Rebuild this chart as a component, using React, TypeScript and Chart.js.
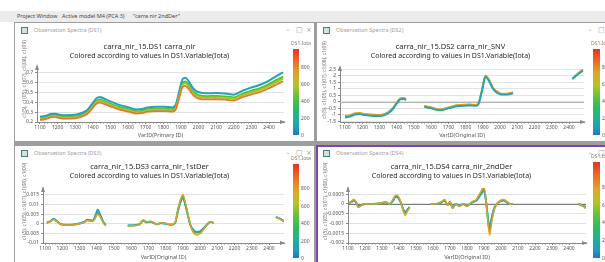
import React, { useEffect, useRef } from "react";
import { Chart, registerables } from "chart.js";
Chart.register(...registerables);

const FONT = "'Noto Sans', 'DejaVu Sans', sans-serif";

// ---------- shared axis ticks ----------
const xTicks = [1100, 1200, 1300, 1400, 1500, 1600, 1700, 1800, 1900, 2000, 2100, 2200, 2300, 2400];
const xTickLabels = ["1100", "1200", "1300", "1400", "1500", "1600", "1700", "1800", "1900", "2000", "2100", "2200", "2300", "2400"];

// ---------- panel 1 : carra_nir ----------
const p1X = [1100, 1130, 1160, 1185, 1210, 1250, 1300, 1340, 1370, 1400, 1420, 1440, 1460, 1500, 1550, 1600, 1650, 1680, 1710, 1760, 1810, 1850, 1870, 1890, 1910, 1925, 1945, 1970, 2000, 2050, 2100, 2150, 2200, 2250, 2300, 2350, 2400, 2440, 2480];
const p1Teal = [0.253, 0.261, 0.282, 0.285, 0.275, 0.268, 0.273, 0.294, 0.325, 0.394, 0.442, 0.456, 0.442, 0.41, 0.375, 0.351, 0.328, 0.332, 0.349, 0.356, 0.356, 0.349, 0.373, 0.511, 0.639, 0.652, 0.612, 0.543, 0.503, 0.492, 0.495, 0.49, 0.479, 0.52, 0.552, 0.58, 0.623, 0.666, 0.705];
const p1Green = [0.238, 0.245, 0.265, 0.268, 0.258, 0.252, 0.256, 0.276, 0.305, 0.37, 0.415, 0.428, 0.415, 0.385, 0.352, 0.33, 0.308, 0.312, 0.328, 0.334, 0.334, 0.328, 0.35, 0.48, 0.6, 0.612, 0.575, 0.51, 0.472, 0.462, 0.465, 0.46, 0.45, 0.488, 0.518, 0.545, 0.585, 0.625, 0.662];
const p1Lime = [0.231, 0.238, 0.257, 0.26, 0.25, 0.244, 0.248, 0.268, 0.296, 0.359, 0.403, 0.415, 0.403, 0.373, 0.341, 0.32, 0.299, 0.303, 0.318, 0.324, 0.324, 0.318, 0.34, 0.466, 0.582, 0.594, 0.558, 0.495, 0.458, 0.448, 0.451, 0.446, 0.437, 0.473, 0.502, 0.529, 0.567, 0.606, 0.642];
const p1Orange = [0.221, 0.228, 0.246, 0.249, 0.24, 0.234, 0.238, 0.257, 0.284, 0.344, 0.386, 0.398, 0.386, 0.358, 0.327, 0.307, 0.286, 0.29, 0.305, 0.311, 0.311, 0.305, 0.326, 0.446, 0.558, 0.569, 0.535, 0.474, 0.439, 0.43, 0.432, 0.428, 0.419, 0.454, 0.482, 0.507, 0.544, 0.581, 0.616];
const p1YTicks = [0.2, 0.3, 0.4, 0.5, 0.6, 0.7];
const p1YLabels = ["0.2", "0.3", "0.4", "0.5", "0.6", "0.7"];

// ---------- panel 2 : carra_nir_SNV ----------
const p2X = [1100, 1130, 1160, 1185, 1210, 1250, 1300, 1330, 1355, 1380, 1400, 1420, 1440, 1455, 1500, 1560, 1600, 1650, 1700, 1740, 1780, 1820, 1860, 1875, 1895, 1915, 1935, 1960, 1985, 2005, 2040, 2075, 2200, 2420, 2450, 2480];
const p2Teal = [-1.2, -1.12, -0.97, -0.94, -1.01, -1.06, -1.09, -1.01, -0.84, -0.51, -0.14, 0.2, 0.23, 0.15, null, -0.37, -0.5, -0.65, -0.5, -0.35, -0.3, -0.27, -0.3, -0.16, 0.82, 1.93, 1.62, 0.98, 0.69, 0.57, 0.57, 0.67, null, 1.75, 2.1, 2.4];
const p2Green = [-1.12, -1.05, -0.9, -0.88, -0.95, -1.0, -1.03, -0.95, -0.78, -0.45, -0.08, 0.25, 0.28, 0.2, null, -0.32, -0.45, -0.6, -0.45, -0.3, -0.25, -0.22, -0.25, -0.1, 0.9, 2.0, 1.7, 1.05, 0.75, 0.62, 0.62, 0.72, null, 1.8, 2.15, 2.45];
const p2Orange = [-1.06, -1.0, -0.85, -0.83, -0.9, -0.95, -0.98, -0.9, -0.73, -0.4, -0.03, 0.29, 0.32, 0.24, null, -0.28, -0.41, -0.56, -0.41, -0.26, -0.21, -0.18, -0.21, -0.05, 0.96, 2.05, 1.76, 1.1, 0.79, 0.66, 0.66, 0.76, null, 1.84, 2.19, 2.49];
const p2YTicks = [-1.5, -1, -0.5, 0, 0.5, 1, 1.5, 2, 2.5];
const p2YLabels = ["-1.5", "-1", "-0.5", "0", "0.5", "1", "1.5", "2", "2.5"];

// ---------- panel 3 : carra_nir_1stDer ----------
const p3X = [1110, 1130, 1150, 1170, 1190, 1220, 1260, 1300, 1330, 1345, 1360, 1378, 1392, 1405, 1420, 1436, 1452, 1500, 1580, 1620, 1650, 1670, 1690, 1710, 1730, 1750, 1770, 1800, 1830, 1855, 1870, 1885, 1900, 1912, 1928, 1945, 1960, 1980, 2000, 2020, 2040, 2060, 2078, 2200, 2440, 2465, 2490];
const p3Teal = [0.0006, 0.0013, 0.0026, 0.0013, -0.0001, -0.0005, -0.0004, 0.0002, 0.0011, 0.0021, 0.0019, 0.0018, 0.0042, 0.0074, 0.0048, 0.0014, -0.0007, null, -0.0009, -0.0007, -0.0001, 0.0016, 0.0007, 0.0011, 0.0004, -0.0003, 0.0003, 0.0, -0.0005, 0.0004, 0.006, 0.0108, 0.0135, 0.0105, 0.0047, -0.0009, -0.0032, -0.0042, -0.0039, -0.0023, -0.0004, 0.001, 0.0004, null, 0.0036, 0.0026, 0.0013];
const p3Green = [0.0005, 0.0012, 0.0024, 0.0012, -0.0002, -0.0006, -0.0005, 0.0001, 0.001, 0.0019, 0.0017, 0.0016, 0.0035, 0.0058, 0.004, 0.0012, -0.0008, null, -0.001, -0.0008, -0.0002, 0.0018, 0.0008, 0.0012, 0.0005, -0.0002, 0.0004, 0.0001, -0.0005, 0.0005, 0.0065, 0.0115, 0.0142, 0.011, 0.005, -0.001, -0.0035, -0.0046, -0.0042, -0.0025, -0.0005, 0.001, 0.0004, null, 0.0035, 0.0025, 0.0012];
const p3Orange = [0.0004, 0.0011, 0.0022, 0.0011, -0.0003, -0.0007, -0.0006, 0.0, 0.0008, 0.0017, 0.0015, 0.0014, 0.003, 0.005, 0.0036, 0.0009, -0.0009, null, -0.0011, -0.0009, -0.0003, 0.002, 0.0009, 0.0013, 0.0006, -0.0002, 0.0005, 0.0002, -0.0005, 0.0006, 0.007, 0.0122, 0.0152, 0.0118, 0.0053, -0.0012, -0.0045, -0.0058, -0.0052, -0.003, -0.0007, 0.0011, 0.0004, null, 0.0033, 0.0024, 0.0011];
const p3YTicks = [-0.01, -0.005, 0, 0.005, 0.01, 0.015];
const p3YLabels = ["-0.01", "-0.005", "0", "0.005", "0.01", "0.015"];

// ---------- panel 4 : carra_nir_2ndDer ----------
const p4X = [1105, 1120, 1135, 1150, 1160, 1175, 1200, 1250, 1300, 1320, 1345, 1365, 1380, 1392, 1410, 1425, 1437, 1447, 1462, 1500, 1585, 1620, 1650, 1668, 1685, 1700, 1715, 1735, 1755, 1780, 1800, 1830, 1855, 1870, 1885, 1898, 1910, 1922, 1933, 1943, 1958, 1975, 1995, 2015, 2035, 2055, 2070, 2200, 2455, 2470, 2485, 2498];
const p4Teal = [0.00004, 0.0001, 0.00017, 0.00004, -0.00012, -0.00006, 0, 0, 0.00004, 0.00008, 0, 0.00017, 0.00036, 0.00034, 0.00008, -0.00026, -0.00042, -0.0003, -0.00015, null, 0, 0, 0.00008, 0.00017, -0.00004, 0.00008, -0.00017, 0, -0.00008, 0, -0.00008, 0.00008, 0.00017, 0.00034, 0.00052, 0.0007, 0.00026, -0.0006, -0.0012, -0.00078, -0.00026, 0, 0.00013, 0.00017, 0.00008, 0, 0, null, 0, -0.00004, -0.00008, -0.00017];
const p4Green = [0.00005, 0.00012, 0.0002, 0.00005, -0.00015, -0.00008, 0, 0, 0.00005, 0.0001, 0, 0.0002, 0.0004, 0.00038, 0.0001, -0.0003, -0.0005, -0.00035, -0.00018, null, 0, 0, 0.0001, 0.0002, -0.00005, 0.0001, -0.0002, 0, -0.0001, 0, -0.0001, 0.0001, 0.0002, 0.0004, 0.0006, 0.0008, 0.0003, -0.0007, -0.0014, -0.0009, -0.0003, 0, 0.00015, 0.0002, 0.0001, 0, 0, null, 0, -0.00005, -0.0001, -0.0002];
const p4Orange = [0.00006, 0.00014, 0.00023, 0.00006, -0.00018, -0.0001, 0, 0, 0.00006, 0.00012, 0, 0.00023, 0.00045, 0.00043, 0.00012, -0.00034, -0.00058, -0.0004, -0.0002, null, 0, 0, 0.00012, 0.00023, -0.00006, 0.00012, -0.00023, 0, -0.00012, 0, -0.00012, 0.00012, 0.00023, 0.00046, 0.00069, 0.00092, 0.00035, -0.0008, -0.0016, -0.00104, -0.00035, 0, 0.00017, 0.00023, 0.00012, 0, 0, null, 0, -0.00006, -0.00012, -0.00023];
const p4YTicks = [-0.002, -0.0015, -0.001, -0.0005, 0, 0.0005];
const p4YLabels = ["-0.002", "-0.0015", "-0.001", "-0.0005", "0", "0.0005"];

// ---------- colour bar ----------
const cbTicks = [800, 600, 400, 200, 0];
const cbLabels = ["800", "600", "400", "200", "0"];
const cbTitle = "DS1.Iota";
const subtitleText = "Colored according to values in DS1.Variable(Iota)";
const yAxisTitle = "c1(5), c1(05), c1(07), c1(08), c1(09)";

const C_TEAL = "#22a2bb";
const C_GREEN = "#48c236";
const C_LIME = "#a8c62a";
const C_ORANGE = "#e47a2c";
const C_AMBER = "#dca22c";

const decorPlugin = {
  id: "decor",
  beforeDatasetsDraw(chart: any, _a: any, opts: any) {
    if (!opts.zeroColor) return;
    const { ctx, chartArea: a, scales } = chart;
    const py = Math.round(scales.y.getPixelForValue(0)) + 0.5;
    ctx.save();
    ctx.strokeStyle = opts.zeroColor;
    ctx.lineWidth = 1;
    ctx.beginPath();
    ctx.moveTo(a.left, py);
    ctx.lineTo(a.right, py);
    ctx.stroke();
    ctx.restore();
  },
  afterDraw(chart: any, _a: any, opts: any) {
    const { ctx, chartArea: a, scales } = chart;
    ctx.save();
    ctx.fillStyle = "#8a8a8a";
    ctx.strokeStyle = "#8a8a8a";
    ctx.lineWidth = 1;
    ctx.beginPath();
    ctx.moveTo(a.left, a.top - 2);
    ctx.lineTo(a.left - 2, a.top + 4);
    ctx.lineTo(a.left + 2, a.top + 4);
    ctx.closePath();
    ctx.fill();
    ctx.beginPath();
    ctx.moveTo(a.right + 2, a.bottom);
    ctx.lineTo(a.right - 4, a.bottom - 2);
    ctx.lineTo(a.right - 4, a.bottom + 2);
    ctx.closePath();
    ctx.fill();
    const xs = scales.x;
    const t = xs.ticks.map((k: any) => k.value);
    for (let i = 0; i < t.length - 1; i++) {
      const step = (t[i + 1] - t[i]) / 5;
      for (let k = 1; k < 5; k++) {
        const px = Math.round(xs.getPixelForValue(t[i] + k * step)) + 0.5;
        ctx.beginPath();
        ctx.moveTo(px, a.bottom);
        ctx.lineTo(px, a.bottom + 1.5);
        ctx.stroke();
      }
    }
    ctx.translate(opts.yTitleX, opts.yTitleY);
    ctx.rotate(-Math.PI / 2);
    ctx.font = `5px ${FONT}`;
    ctx.fillStyle = "#707070";
    ctx.textAlign = "center";
    ctx.textBaseline = "middle";
    ctx.fillText(opts.yTitle, 0, 0);
    ctx.restore();
  },
};

type Series = { values: (number | null)[]; color: string; width: number };
type Cfg = {
  left: number; top: number; width: number; height: number;
  title: string; xTitle: string;
  xs: number[]; series: Series[];
  xMin: number; xMax: number; yMin: number; yMax: number;
  yTicks: number[]; yLabels: string[];
  yAxisW: number; xAxisH: number; padRight: number;
  titlePadTop: number; subPadTop: number; subPadBottom: number;
  yTitleX: number; yTitleY: number; zeroColor?: string;
};

function SpectraChart({ cfg }: { cfg: Cfg }) {
  const ref = useRef<HTMLCanvasElement>(null);
  useEffect(() => {
    const chart = new Chart(ref.current as HTMLCanvasElement, {
      type: "line",
      data: {
        datasets: cfg.series.map((s) => ({
          data: cfg.xs.map((x, i) => ({ x, y: s.values[i] === undefined ? null : s.values[i] })),
          borderColor: s.color,
          borderWidth: s.width,
          pointRadius: 0,
          fill: false,
          spanGaps: false,
          cubicInterpolationMode: "monotone",
        })),
      } as any,
      options: {
        responsive: false,
        animation: false,
        devicePixelRatio: 1,
        layout: { padding: { left: 0, right: cfg.padRight, top: 0, bottom: 0 } },
        plugins: {
          legend: { display: false },
          tooltip: { enabled: false },
          title: {
            display: true, text: cfg.title, color: "#2a2a2a",
            font: { family: FONT, size: 7.5, weight: "normal" },
            padding: { top: cfg.titlePadTop, bottom: 0 },
          },
          subtitle: {
            display: true, text: subtitleText, color: "#2a2a2a",
            font: { family: FONT, size: 7, weight: "normal" },
            padding: { top: cfg.subPadTop, bottom: cfg.subPadBottom },
          },
          decor: { yTitle: yAxisTitle, yTitleX: cfg.yTitleX, yTitleY: cfg.yTitleY, zeroColor: cfg.zeroColor },
        } as any,
        scales: {
          x: {
            type: "linear", min: cfg.xMin, max: cfg.xMax,
            afterBuildTicks: (s: any) => { s.ticks = xTicks.map((v) => ({ value: v })); },
            afterFit: (s: any) => { s.height = cfg.xAxisH; },
            ticks: {
              callback: (_v: any, i: number) => xTickLabels[i],
              font: { family: FONT, size: 5 }, color: "#555", padding: 1, maxRotation: 0, autoSkip: false,
            },
            grid: { drawOnChartArea: false, drawTicks: true, tickLength: 2, tickColor: "#8a8a8a" },
            border: { display: true, color: "#8a8a8a", width: 1 },
            title: { display: true, text: cfg.xTitle, color: "#555", font: { family: FONT, size: 5.5 }, padding: { top: 0, bottom: 1 } },
          },
          y: {
            type: "linear", min: cfg.yMin, max: cfg.yMax,
            afterBuildTicks: (s: any) => { s.ticks = cfg.yTicks.map((v) => ({ value: v })); },
            afterFit: (s: any) => { s.width = cfg.yAxisW; },
            ticks: {
              callback: (_v: any, i: number) => cfg.yLabels[i],
              font: { family: FONT, size: 5 }, color: "#555", padding: 2, autoSkip: false,
            },
            grid: { color: "#e2e2e2", lineWidth: 1, drawTicks: true, tickLength: 2, tickColor: "#8a8a8a" },
            border: { display: true, color: "#8a8a8a", width: 1 },
          },
        } as any,
      },
      plugins: [decorPlugin as any],
    });
    return () => chart.destroy();
  }, []);
  return (
    <canvas
      ref={ref}
      width={cfg.width}
      height={cfg.height}
      style={{ position: "absolute", left: cfg.left, top: cfg.top, width: cfg.width, height: cfg.height }}
    />
  );
}

function ColorBar({ x, top, w, h, vmax, titleY }: { x: number; top: number; w: number; h: number; vmax: number; titleY: number }) {
  return (
    <>
      <div style={{ position: "absolute", left: x - 2, top: titleY - 4, fontSize: 5, lineHeight: "8px", color: "#8a7a6a", whiteSpace: "nowrap" }}>{cbTitle}</div>
      <div
        style={{
          position: "absolute", left: x, top, width: w, height: h,
          background: "linear-gradient(to bottom, #e5341f 0%, #ee6a24 14%, #e0a526 28%, #b5c424 42%, #5cc43a 56%, #2cbd5a 68%, #1fb296 80%, #1d9bc0 92%, #2176bf 100%)",
        }}
      />
      {cbTicks.map((v, i) => (
        <div key={i} style={{ position: "absolute", left: x + w + 2, top: top + (1 - v / vmax) * h - 4, fontSize: 5, lineHeight: "8px", color: "#555", whiteSpace: "nowrap" }}>
          {cbLabels[i]}
        </div>
      ))}
    </>
  );
}

function TitleBar({ x, y, label, buttons, right }: { x: number; y: number; label: string; buttons: string[]; right: number }) {
  return (
    <>
      <div style={{ position: "absolute", left: x + 6, top: y + 3, width: 5, height: 5, border: "1px solid #4f7f7a", background: "#cfe3df" }} />
      <div style={{ position: "absolute", left: x + 19, top: y, height: 12, lineHeight: "12px", fontSize: 5.5, color: "#a0a0a0", whiteSpace: "nowrap" }}>{label}</div>
      {buttons.map((b, i) => (
        <div key={i} style={{ position: "absolute", left: right + i * 10, top: y, height: 12, lineHeight: "12px", fontSize: 7, color: "#9a9a9a", fontFamily: "'DejaVu Sans', sans-serif" }}>{b}</div>
      ))}
    </>
  );
}

const cfg1: Cfg = {
  left: 15, top: 36, width: 277, height: 104,
  title: "carra_nir_15.DS1 carra_nir", xTitle: "VarID(Primary ID)",
  xs: p1X,
  series: [
    { values: p1Orange, color: C_ORANGE, width: 1.8 },
    { values: p1Lime, color: C_LIME, width: 2 },
    { values: p1Teal, color: C_TEAL, width: 2 },
    { values: p1Green, color: C_GREEN, width: 2.2 },
  ],
  xMin: 1083, xMax: 2485, yMin: 0.2, yMax: 0.771,
  yTicks: p1YTicks, yLabels: p1YLabels,
  yAxisW: 22, xAxisH: 18, padRight: 8,
  titlePadTop: 6.5, subPadTop: 0, subPadBottom: 6.1,
  yTitleX: 9.5, yTitleY: 43,
};
const cfg2: Cfg = {
  left: 317, top: 36, width: 275, height: 104,
  title: "carra_nir_15.DS2 carra_nir_SNV", xTitle: "VarID(Original ID)",
  xs: p2X,
  series: [
    { values: p2Teal, color: C_TEAL, width: 1.8 },
    { values: p2Orange, color: C_AMBER, width: 1.5 },
    { values: p2Green, color: C_GREEN, width: 2 },
  ],
  xMin: 1071, xMax: 2487, yMin: -1.54, yMax: 2.69,
  yTicks: p2YTicks, yLabels: p2YLabels,
  yAxisW: 23, xAxisH: 18, padRight: 8,
  titlePadTop: 6.5, subPadTop: 0, subPadBottom: 7.1,
  yTitleX: 7.5, yTitleY: 44, zeroColor: "#b4b4b4",
};
const cfg3: Cfg = {
  left: 15, top: 158, width: 277, height: 104,
  title: "carra_nir_15.DS3 carra_nir_1stDer", xTitle: "VarID(Original ID)",
  xs: p3X,
  series: [
    { values: p3Orange, color: C_AMBER, width: 1.5 },
    { values: p3Teal, color: C_TEAL, width: 1.8 },
    { values: p3Green, color: C_GREEN, width: 2 },
  ],
  xMin: 1088, xMax: 2487, yMin: -0.01, yMax: 0.0186,
  yTicks: p3YTicks, yLabels: p3YLabels,
  yAxisW: 28, xAxisH: 19, padRight: 8,
  titlePadTop: 4, subPadTop: 0.8, subPadBottom: 7.8,
  yTitleX: 9.5, yTitleY: 43.5,
};
const cfg4: Cfg = {
  left: 317, top: 158, width: 275, height: 104,
  title: "carra_nir_15.DS4 carra_nir_2ndDer", xTitle: "VarID(Original ID)",
  xs: p4X,
  series: [
    { values: p4Orange, color: C_AMBER, width: 1.5 },
    { values: p4Teal, color: C_TEAL, width: 1.8 },
    { values: p4Green, color: C_GREEN, width: 2 },
  ],
  xMin: 1100, xMax: 2500, yMin: -0.002, yMax: 0.00082,
  yTicks: p4YTicks, yLabels: p4YLabels,
  yAxisW: 31, xAxisH: 19, padRight: 6,
  titlePadTop: 4, subPadTop: 0.8, subPadBottom: 7.8,
  yTitleX: 8.5, yTitleY: 43.5, zeroColor: "#7a7a7a",
};

const tab = (x: number): React.CSSProperties => ({
  position: "absolute", left: x, top: 11, height: 11, lineHeight: "11px", fontSize: 5.5, color: "#444", whiteSpace: "nowrap",
});

export default function App() {
  return (
    <div style={{ position: "absolute", left: 0, top: 0, width: 605, height: 262, overflow: "hidden", background: "#fff", fontFamily: FONT }}>
      <div style={{ position: "absolute", left: 0, top: 11, width: 605, height: 11, background: "#ececec" }} />
      <span style={tab(17)}>Project Window</span>
      <span style={tab(62)}>Active model M4 (PCA 3)</span>
      <span style={tab(133)}>"carra nir 2ndDer"</span>

      <div style={{ position: "absolute", left: 14, top: 22, width: 591, height: 240, background: "#9e9e9e" }} />
      <div style={{ position: "absolute", left: 15, top: 23, width: 299, height: 118, background: "#fff" }} />
      <div style={{ position: "absolute", left: 317, top: 23, width: 288, height: 118, background: "#fff" }} />
      <div style={{ position: "absolute", left: 15, top: 146, width: 299, height: 116, background: "#fff" }} />
      <div style={{ position: "absolute", left: 316, top: 145, width: 289, height: 117, background: "#7e47a3" }} />
      <div style={{ position: "absolute", left: 318, top: 147, width: 287, height: 115, background: "#fff" }} />

      <TitleBar x={15} y={24} label="Observation Spectra (DS1)" buttons={["–", "□", "×"]} right={286} />
      <TitleBar x={317} y={24} label="Observation Spectra (DS2)" buttons={["–", "□"]} right={588} />
      <TitleBar x={15} y={147} label="Observation Spectra (DS3)" buttons={["–", "□", "×"]} right={286} />
      <TitleBar x={317} y={147} label="Observation Spectra (DS4)" buttons={["–", "□"]} right={588} />

      <SpectraChart cfg={cfg1} />
      <SpectraChart cfg={cfg2} />
      <SpectraChart cfg={cfg3} />
      <SpectraChart cfg={cfg4} />

      <ColorBar x={293} top={49} w={6} h={86} vmax={1010} titleY={43} />
      <ColorBar x={593} top={49} w={7} h={86} vmax={1010} titleY={43} />
      <ColorBar x={293} top={164} w={6} h={94} vmax={1080} titleY={158} />
      <ColorBar x={593} top={162} w={7} h={96} vmax={1080} titleY={156} />
    </div>
  );
}
